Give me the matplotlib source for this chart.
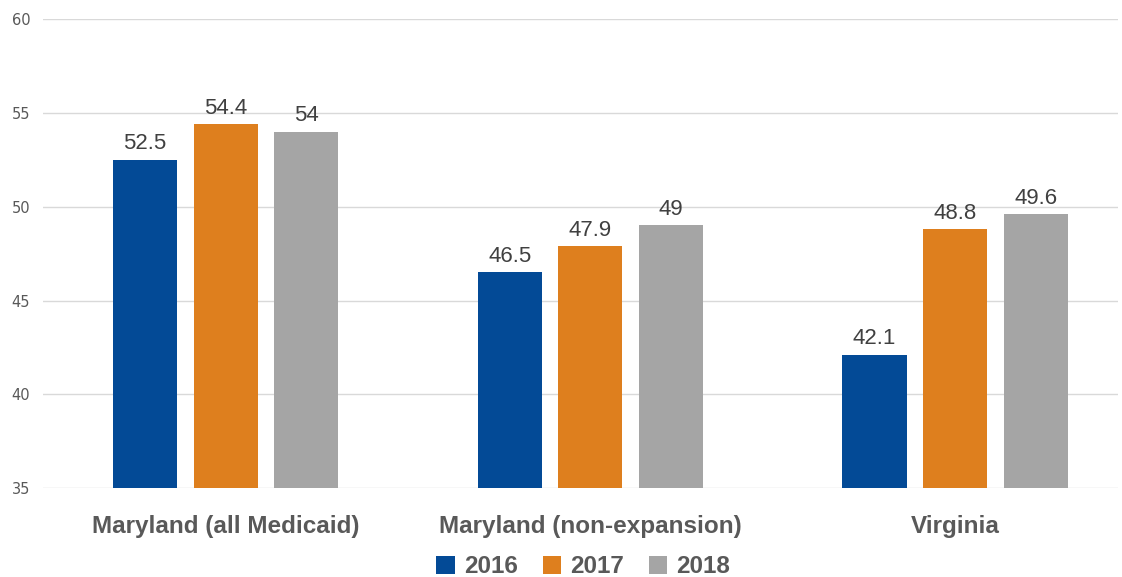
import numpy as np
import matplotlib
matplotlib.use("Agg")
import matplotlib.pyplot as plt
from matplotlib.font_manager import fontManager

# data
categories = ["Maryland (all Medicaid)", "Maryland (non-expansion)", "Virginia"]
years = ["2016", "2017", "2018"]
v2016 = [52.5, 46.5, 42.1]
v2017 = [54.4, 47.9, 48.8]
v2018 = [54.0, 49.0, 49.6]
labels2016 = ["52.5", "46.5", "42.1"]
labels2017 = ["54.4", "47.9", "48.8"]
labels2018 = ["54", "49", "49.6"]
colors = ["#034A96", "#DE7F1E", "#A5A5A5"]

names = {f.name for f in fontManager.ttflist}
narrow = "Liberation Sans Narrow" if "Liberation Sans Narrow" in names else "Liberation Sans"
plt.rcParams["font.family"] = [narrow, "DejaVu Sans"]

fig = plt.figure(figsize=(11.22, 5.77), dpi=100)
ax = fig.add_axes([0.038, 0.154, 0.9585, 0.813])

x = np.arange(len(categories))
w = 0.176
off = 0.221
series = [(v2016, labels2016), (v2017, labels2017), (v2018, labels2018)]
for i, (vals, labs) in enumerate(series):
    bars = ax.bar(x + (i - 1) * off, vals, width=w, color=colors[i], label=years[i], zorder=3)
    ax.bar_label(bars, labels=labs, padding=4, fontsize=16, color="#404040")

ax.set_ylim(35, 60)
ax.set_xlim(-0.502, 2.447)
ax.set_yticks([35, 40, 45, 50, 55, 60])
ax.grid(axis="y", color="#D9D9D9", linewidth=1, zorder=0)
for s in ax.spines.values():
    s.set_visible(False)
ax.tick_params(axis="y", length=0, labelsize=10.5, labelcolor="#595959", pad=9)
ax.set_yticklabels(["35", "40", "45", "50", "55", "60"], family="DejaVu Sans")
ax.set_xticks(x)
ax.set_xticklabels(categories, fontsize=17.5, fontweight="bold", color="#595959")
ax.tick_params(axis="x", length=0, pad=19)

leg = fig.legend(loc="lower center", bbox_to_anchor=(0.52, -0.04), ncol=3, frameon=False,
                 fontsize=17.5, handlelength=0.75, handleheight=0.75, handletextpad=0.4,
                 columnspacing=1.0)
for t in leg.get_texts():
    t.set_color("#595959")
    t.set_fontweight("bold")

fig.savefig("out.png", dpi=100)
